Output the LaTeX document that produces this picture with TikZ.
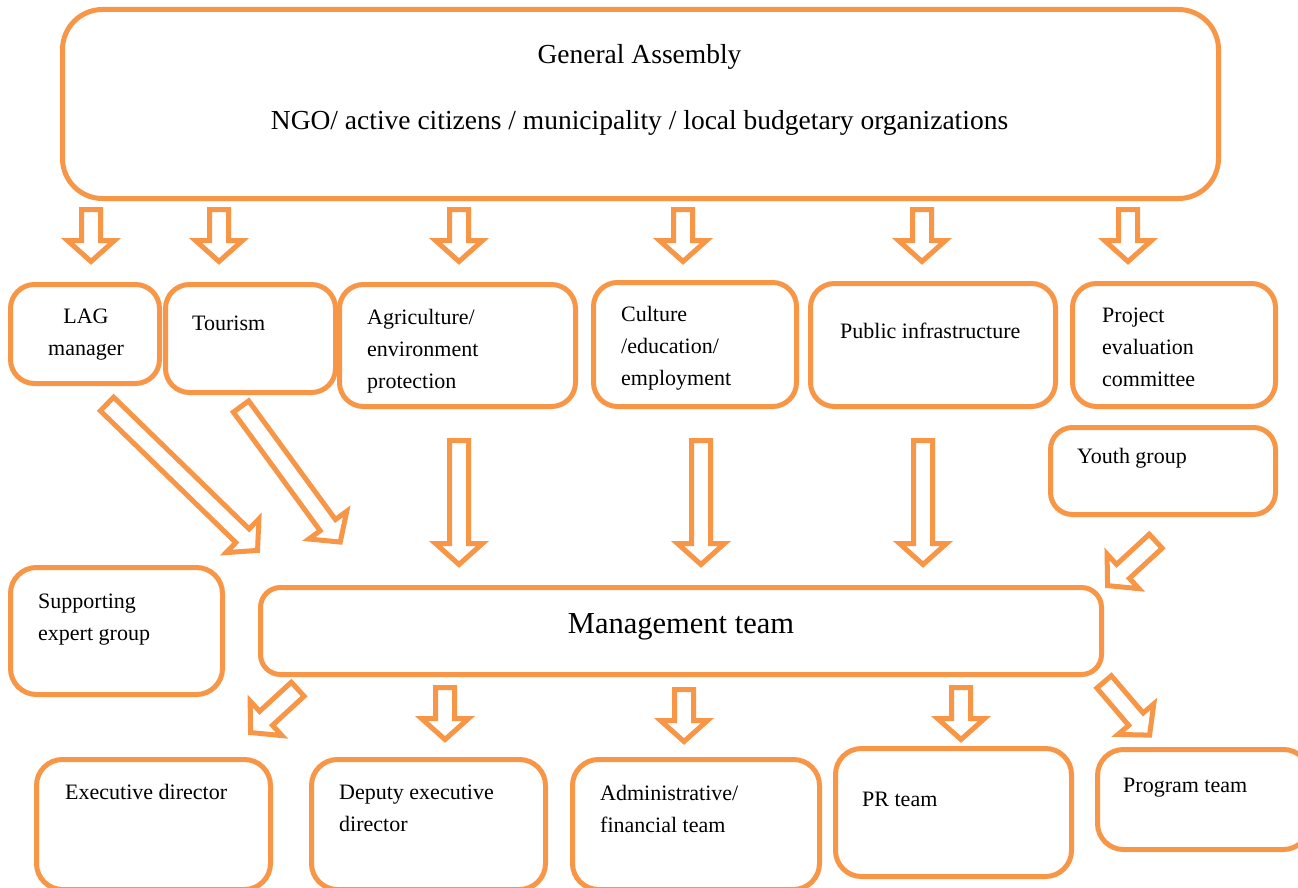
\documentclass[tikz,border=0pt]{standalone}
\usepackage{fontspec}
\setmainfont{Liberation Serif}
\definecolor{lagorange}{HTML}{F79646}
\tikzset{
  box/.style={draw=lagorange, line width=5pt, fill=white, inner sep=0pt},
  arr/.style={draw=lagorange, line width=5pt, fill=white, line join=miter},
  txt/.style={inner sep=0pt, anchor=base west, font=\fontsize{22}{32}\selectfont, text=black},
  ctxt/.style={txt, anchor=base},
  big/.style={inner sep=0pt, anchor=base, font=\fontsize{27.5}{33}\selectfont, text=black},
}
% block arrow: tail centre (x,y), screen angle (clockwise from +x), length
\newcommand\barrow[4]{%
  \draw[arr, shift={(#1,#2)}, rotate=-#3]
    (0,-9.5) -- ({#4-21},-9.5) -- ({#4-21},-23.5) -- (#4,0) -- ({#4-21},23.5) -- ({#4-21},9.5) -- (0,9.5) -- cycle;}
% box: name, outer x1, y1, x2, y2, corner radius (outer sep puts the anchor on the outer edge)
\newcommand\bx[6]{%
  \node[box, rounded corners=#6, minimum width={#4-#2-5}, minimum height={#5-#3-5}, anchor=north west]
    (#1) at (#2,#3) {};}
\newcommand\lines[1]{\begin{tabular}[t]{@{}l@{}}#1\end{tabular}}
\newcommand\clines[1]{\begin{tabular}[t]{@{}c@{}}#1\end{tabular}}
\begin{document}
\begin{tikzpicture}[x=1pt, y=-1pt]
\useasboundingbox (0,0) rectangle (1298,888);
\clip (0,0) rectangle (1298,888);
\fill[white] (0,0) rectangle (1298,888);

% boxes
\bx{ga}{60}{7}{1221}{201}{40pt}
\bx{lag}{8}{282}{162}{386}{24pt}
\bx{tour}{163}{282}{338}{395}{24pt}
\bx{agri}{337}{282}{578}{409}{24pt}
\bx{cult}{591}{280}{799}{409}{24pt}
\bx{pub}{808}{281}{1058}{409}{24pt}
\bx{proj}{1070}{281}{1278}{409}{24pt}
\bx{youth}{1048}{425}{1278}{517}{22pt}
\bx{supp}{8}{565}{225}{697}{26pt}
\bx{mgmt}{258}{585}{1104}{677}{20pt}
\bx{exec}{34}{757}{273}{892}{26pt}
\bx{dep}{309}{757}{548}{892}{26pt}
\bx{adm}{570}{757}{822}{892}{26pt}
\bx{pr}{833}{746}{1074}{879}{26pt}
\bx{prog}{1095}{747}{1312}{852}{26pt}

% texts
\node[big] (gat) at (639.5,64) {General Assembly};
\node[big] (ngot) at (639.5,130) {NGO/ active citizens / municipality / local budgetary organizations};
\node[ctxt] (lagt) at (86,323) {\clines{LAG\\manager}};
\node[txt] (tourt) at (192,330) {Tourism};
\node[txt] (agrit) at (367,324) {\lines{Agriculture/\\environment\\protection}};
\node[txt] (cultt) at (621,321) {\lines{Culture\\/education/\\employment}};
\node[txt] (pubt) at (840,338) {Public infrastructure};
\node[txt] (projt) at (1102,322) {\lines{Project\\evaluation\\committee}};
\node[txt] (youtht) at (1077,463) {Youth group};
\node[txt] (suppt) at (38,608) {\lines{Supporting\\expert group}};
\node[big, font=\fontsize{30.5}{36}\selectfont] (mgmtt) at (681,633) {Management team};
\node[txt] (exect) at (65,799) {Executive director};
\node[txt] (dept) at (339,799) {\lines{Deputy executive\\director}};
\node[txt] (admt) at (600,800) {\lines{Administrative/\\financial team}};
\node[txt] (prt) at (862,806) {PR team};
\node[txt] (progt) at (1123,792) {Program team};

% arrows from General Assembly
\barrow{91}{209.5}{90}{52}
\barrow{219}{209.5}{90}{52}
\barrow{459}{209.5}{90}{52}
\barrow{683}{209.5}{90}{52}
\barrow{922}{209.5}{90}{52}
\barrow{1128}{209.5}{90}{52}

% arrows to Management team
\barrow{107}{404}{44.2}{210}
\barrow{241}{406.5}{53.8}{168}
\barrow{459}{440.5}{90}{124}
\barrow{701}{440.5}{90}{124}
\barrow{923}{440.5}{90}{124}
\barrow{1155.7}{541.2}{137.3}{65.5}

% arrows from Management team
\barrow{297.7}{689.2}{137.4}{64}
\barrow{445}{687.5}{90}{52}
\barrow{684}{689.5}{90}{52}
\barrow{961}{687.5}{90}{52}
\barrow{1104.1}{681.9}{49.5}{70}
\end{tikzpicture}
\end{document}
